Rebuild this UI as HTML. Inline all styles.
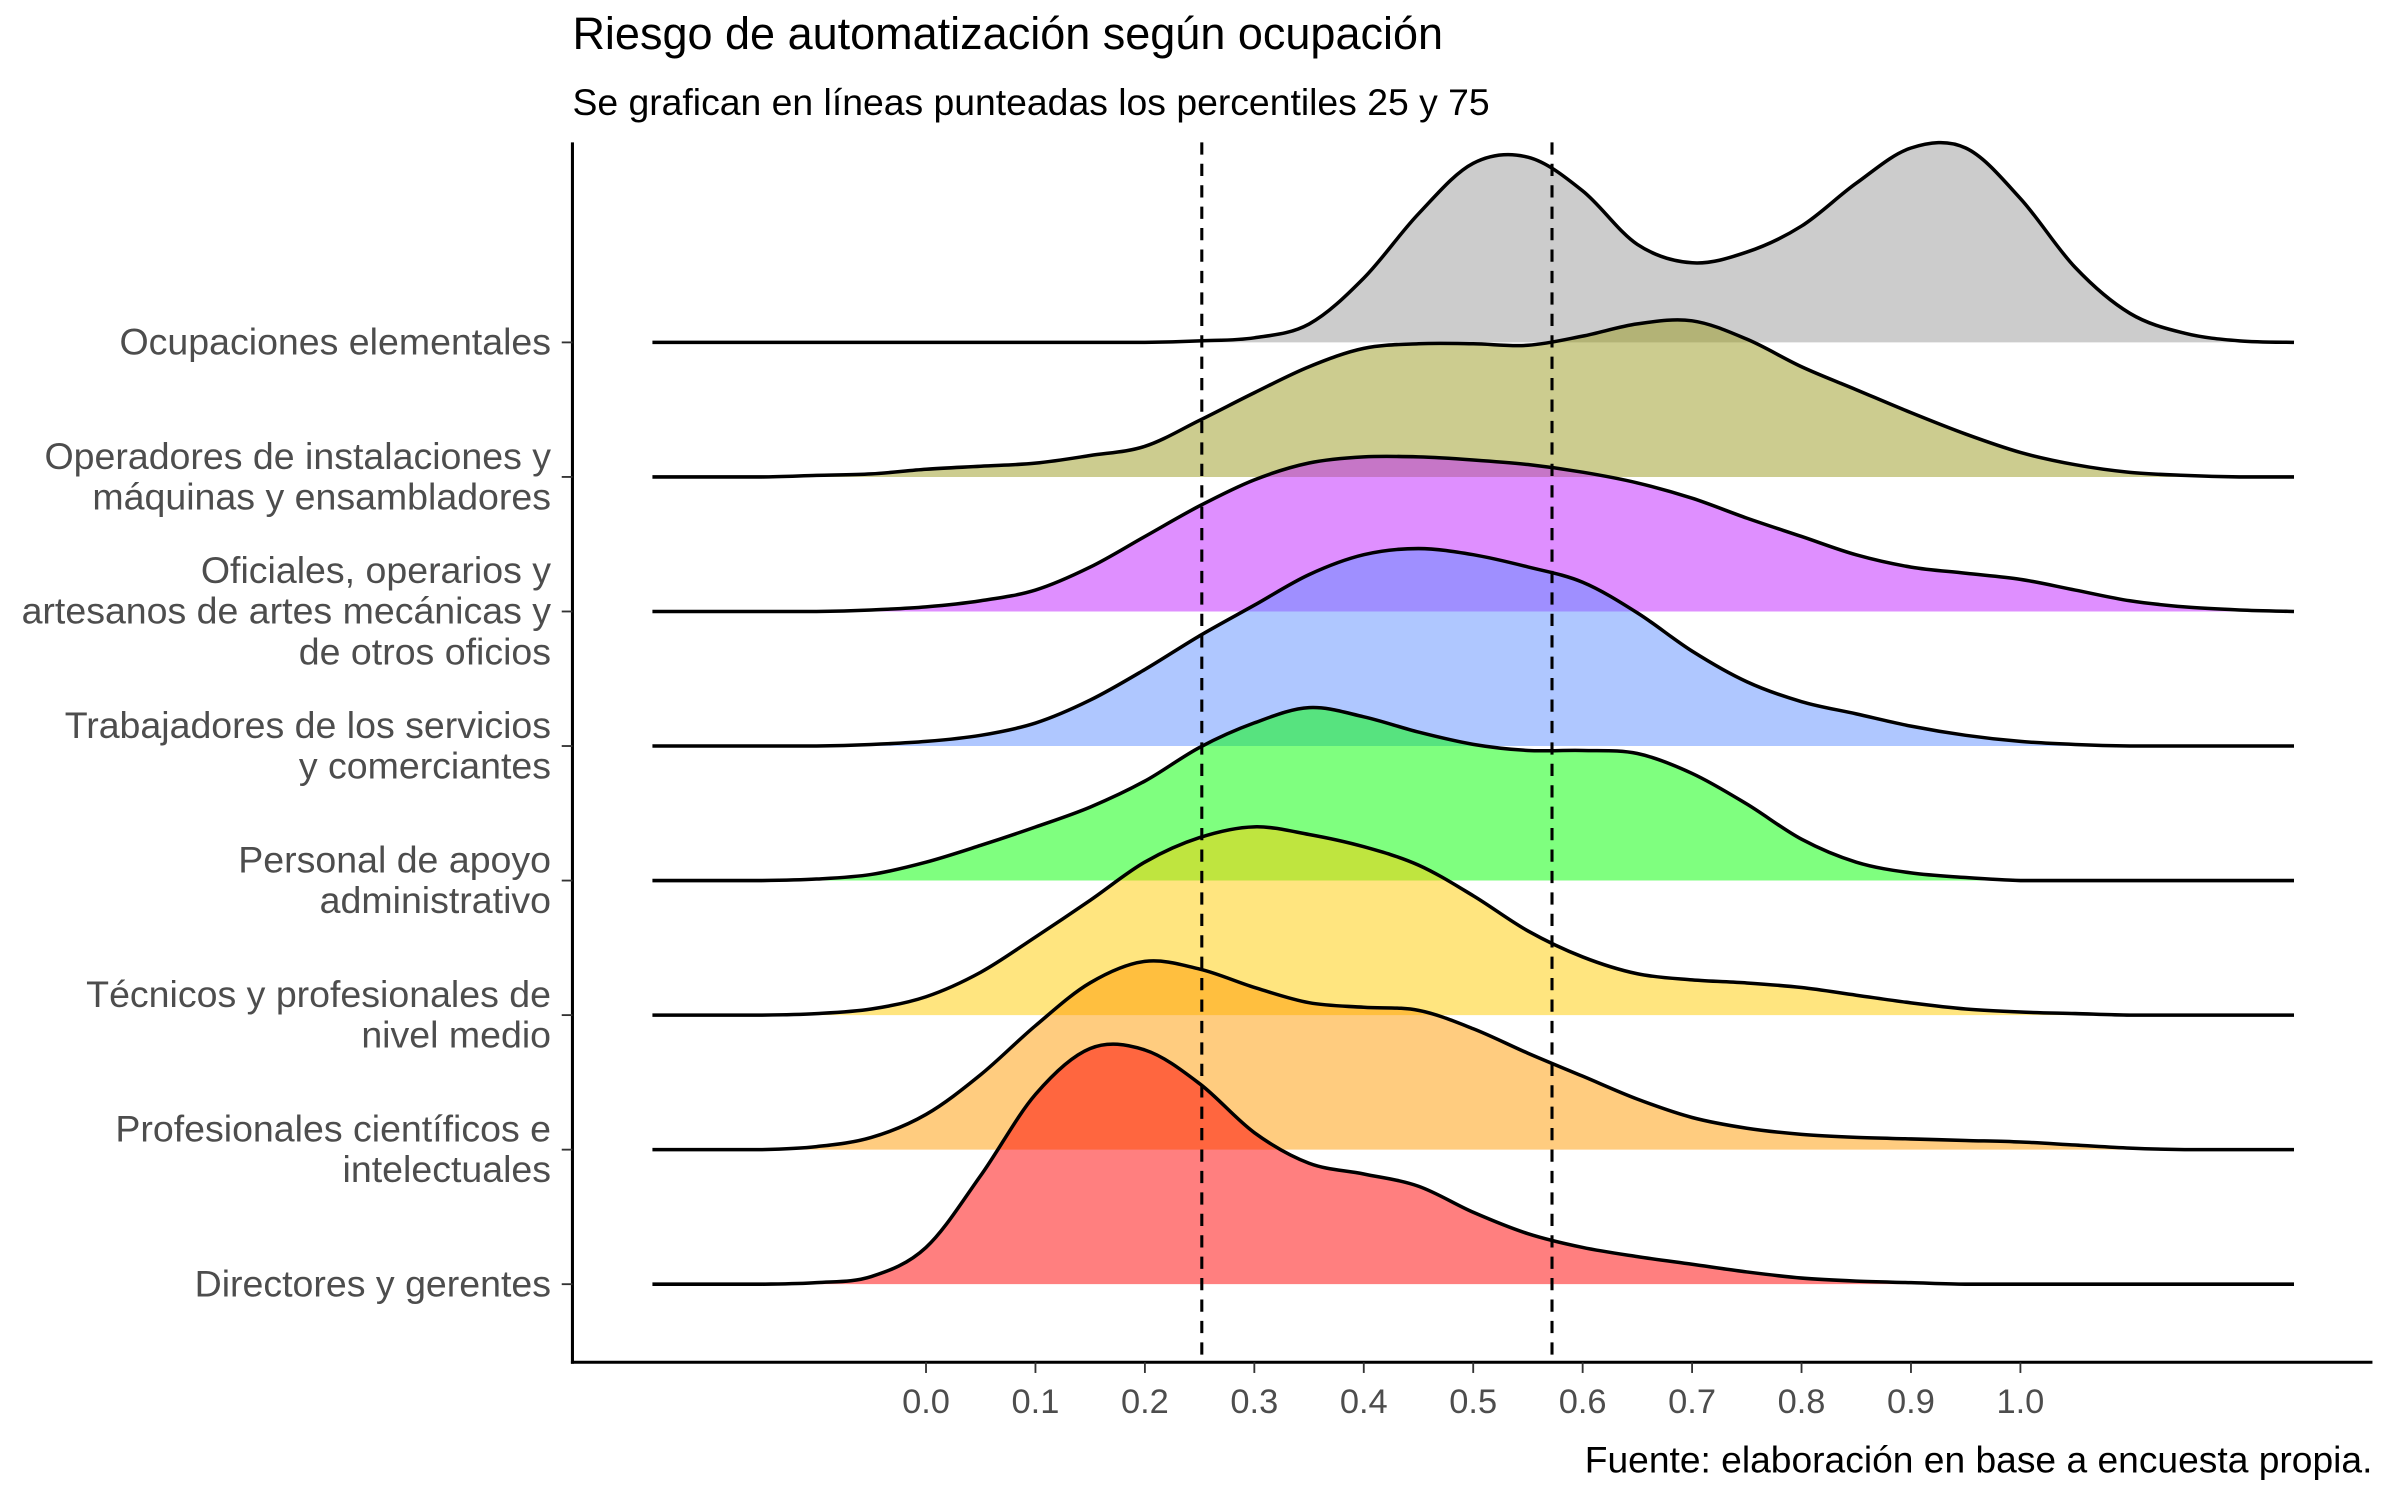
<!DOCTYPE html>
<html><head><meta charset="utf-8">
<style>html,body{margin:0;padding:0;background:#fff}svg{display:block}text{font-family:"Liberation Sans",Arial,sans-serif}</style>
</head><body>
<svg id="chart" width="2400" height="1500" viewBox="0 0 1568 980" xmlns="http://www.w3.org/2000/svg">
<rect width="1568" height="980" fill="#fff"/>
<text x="374" y="32" font-size="29.4" fill="#000">Riesgo de automatización según ocupación</text>
<text x="374" y="75" font-size="24.4" fill="#000">Se grafican en líneas punteadas los percentiles 25 y 75</text>
<g id="ridges"></g>
<g id="axes"></g>
<text x="1550" y="962" font-size="24.3" text-anchor="end" fill="#000">Fuente: elaboración en base a encuesta propia.</text>
</svg>
<script>
const categories = ["Directores y gerentes","Profesionales científicos e|intelectuales","Técnicos y profesionales de|nivel medio","Personal de apoyo|administrativo","Trabajadores de los servicios|y comerciantes","Oficiales, operarios y|artesanos de artes mecánicas y|de otros oficios","Operadores de instalaciones y|máquinas y ensambladores","Ocupaciones elementales"];
const fills = ["#ff0000","#ff9900","#ffcc00","#00ff00","#6090ff","#c020ff","#999920","#999999"];
const gridX = [-0.25,-0.2,-0.15,-0.1,-0.05,0,0.05,0.1,0.15,0.2,0.25,0.3,0.35,0.4,0.45,0.5,0.55,0.6,0.65,0.7,0.75,0.8,0.85,0.9,0.95,1.0,1.05,1.1,1.15,1.2,1.25];
const densDirectores    = [0,0,0,1,5,24,71,124,154,153,131,99,79,72,64,47,33,24,18,13,8,4,2,1,0,0,0,0,0,0,0];
const densProfesionales = [0,0,0,2,8,23,49,81,109,123,118,106,96,93,91,79,63,48,33,21,14,10,8,7,6,5,3,1,0,0,0];
const densTecnicos      = [0,0,0,1,4,12,28,51,75,100,116,123,118,110,98,78,55,38,27,23,21,18,13,8,4,2,1,0,0,0,0];
const densPersonal      = [0,0,0,1,4,12,23,35,48,65,87,103,113,107,97,89,85,85,83,70,50,27,12,5,2,0,0,0,0,0,0];
const densTrabajadores  = [0,0,0,0,1,3,7,15,30,50,72,92,112,125,129,125,117,107,87,62,42,29,21,13,7,3,1,0,0,0,0];
const densOficiales     = [0,0,0,0,1,3,7,14,29,49,69,86,97,101,101,99,96,91,84,74,61,49,37,29,25,21,14,7,3,1,0];
const densOperadores    = [0,0,0,1,2,5,7,9,14,20,37,55,72,84,87,87,86,92,100,102,90,72,57,42,28,16,8,3,1,0,0];
const densElementales   = [0,0,0,0,0,0,0,0,0,0,1,3,12,42,84,117,121,99,64,52,59,76,104,127,127,94,49,19,6,1,0];
const allDens = [densDirectores,densProfesionales,densTecnicos,densPersonal,densTrabajadores,densOficiales,densOperadores,densElementales];
const xTicks = [0,0.1,0.2,0.3,0.4,0.5,0.6,0.7,0.8,0.9,1.0];
const xTickLabels = ["0.0","0.1","0.2","0.3","0.4","0.5","0.6","0.7","0.8","0.9","1.0"];
const percentiles = [0.252,0.572];

const NS="http://www.w3.org/2000/svg";
const xs = v => 605 + 715*v;
const baseY = i => 839 - i*87.9;
const hs = d => d;
function mk(tag, attrs, parent){const e=document.createElementNS(NS,tag);for(const k in attrs)e.setAttribute(k,attrs[k]);parent.appendChild(e);return e;}
function smooth(pts,b){let d=`M${pts[0][0]},${pts[0][1]}`;for(let i=0;i<pts.length-1;i++){const p0=pts[Math.max(0,i-1)],p1=pts[i],p2=pts[i+1],p3=pts[Math.min(pts.length-1,i+2)];const c1=[p1[0]+(p2[0]-p0[0])/6,Math.min(b,p1[1]+(p2[1]-p0[1])/6)],c2=[p2[0]-(p3[0]-p1[0])/6,Math.min(b,p2[1]-(p3[1]-p1[1])/6)];d+=` C${c1[0]},${c1[1]} ${c2[0]},${c2[1]} ${p2[0]},${p2[1]}`;}return d;}
const ridges=document.getElementById('ridges');
for(let i=categories.length-1;i>=0;i--){
  const b=baseY(i);
  const pts=gridX.map((x,j)=>[xs(x),b-hs(allDens[i][j])]);
  const line=smooth(pts,b);
  const g=mk('g',{},ridges);
  
  
  const area=mk('path',{d:line+` L${xs(gridX[gridX.length-1])},${b} L${xs(gridX[0])},${b} Z`,fill:fills[i],'fill-opacity':0.5},g);
  
  
  const ln=mk('path',{d:line,fill:'none',stroke:'#000','stroke-width':2.3,'stroke-linejoin':'round'},g);
  
  
}
const axes=document.getElementById('axes');
percentiles.forEach((p,k)=>{
  const l=mk('line',{x1:xs(p),x2:xs(p),y1:93,y2:890,stroke:'#000','stroke-width':2,'stroke-dasharray':'8,6'},axes);
  
  
});
const ya=mk('line',{x1:374,x2:374,y1:93,y2:891,stroke:'#000','stroke-width':2},axes);


const xa=mk('line',{x1:373,x2:1550,y1:890,y2:890,stroke:'#000','stroke-width':2},axes);


xTicks.forEach((t,k)=>{
  mk('line',{x1:xs(t),x2:xs(t),y1:890,y2:897,stroke:'#333','stroke-width':1.2},axes);
  const tx=mk('text',{x:xs(t),y:923,'font-size':22.5,'text-anchor':'middle',fill:'#4d4d4d'},axes);
  tx.textContent=xTickLabels[k];
  
  
});
categories.forEach((c,i)=>{
  const b=baseY(i);
  mk('line',{x1:367,x2:374,y1:b,y2:b,stroke:'#333','stroke-width':1.2},axes);
  const lines=c.split('|');
  const t=mk('text',{x:360,'font-size':24.5,'text-anchor':'end',fill:'#4d4d4d'},axes);
  
  
  lines.forEach((s,k)=>{const sp=mk('tspan',{x:360,y:b+8+(k-(lines.length-1)/2)*26.5},t);sp.textContent=s;});
});
</script>
</body></html>
